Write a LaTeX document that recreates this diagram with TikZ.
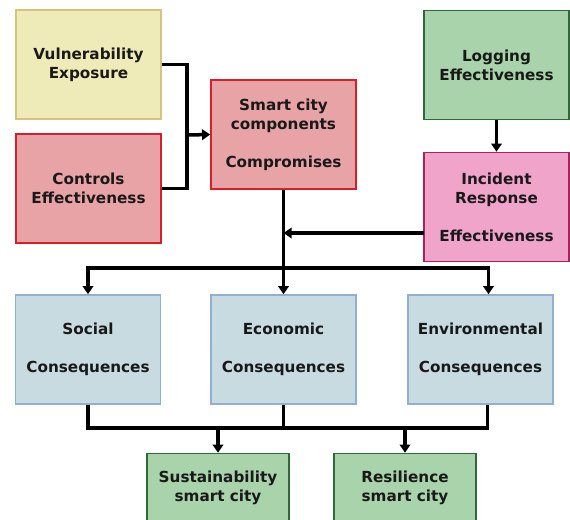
\documentclass[tikz,border=0pt]{standalone}
\usepackage{fontspec}
\setmainfont{DejaVu Sans}
\usetikzlibrary{arrows.meta}

\definecolor{vulfill}{HTML}{EFEBB8}
\definecolor{vuledge}{HTML}{D8C27C}
\definecolor{redfill}{HTML}{E8A3A7}
\definecolor{rededge}{HTML}{D5202C}
\definecolor{grnfill}{HTML}{A9D3AA}
\definecolor{grnedge}{HTML}{2E6A38}
\definecolor{pnkfill}{HTML}{F1A4CA}
\definecolor{pnkedge}{HTML}{A8235E}
\definecolor{blufill}{HTML}{C8DBE1}
\definecolor{bluedge}{HTML}{90AED6}

\begin{document}
\begin{tikzpicture}[
			x=0.03cm, y=-0.03cm,
			box/.style={rectangle, draw, line width=1.3pt, minimum width=4.35cm,
					minimum height=3.27cm, align=center, inner sep=2pt,
					font=\fontsize{13}{16.2}\selectfont\bfseries, text=black!90},
			conn/.style={line width=3pt, black},
			arr/.style={conn, -{Triangle[length=7pt,width=9pt]}}
		]
		\useasboundingbox (0,0) rectangle (570,519);
		\clip (0,0) rectangle (570,519);

		% inputs to the components
		\node[box, fill=vulfill, draw=vuledge] (vul) at (88.5,64.5) {Vulnerability\\Exposure};
		\node[box, fill=redfill, draw=rededge] (ctl) at (88.5,188.5) {Controls\\Effectiveness};
		\node[box, fill=redfill, draw=rededge] (smart) at (283.5,134.5) {Smart city\\components\\[16.2pt]Compromises};
		\node[box, fill=grnfill, draw=grnedge] (log) at (496.5,65) {Logging\\Effectiveness};
		\node[box, fill=pnkfill, draw=pnkedge] (inc) at (496.5,207) {Incident\\Response\\[16.2pt]Effectiveness};

		% consequences
		\node[box, fill=blufill, draw=bluedge] (soc) at (88,349.5) {Social\\[16.2pt]Consequences};
		\node[box, fill=blufill, draw=bluedge] (eco) at (283.5,349.5) {Economic\\[16.2pt]Consequences};
		\node[box, fill=blufill, draw=bluedge] (env) at (480.5,349.5) {Environmental\\[16.2pt]Consequences};

		% outcomes
		\node[box, fill=grnfill, draw=grnedge, minimum width=4.26cm, minimum height=2.07cm] (sus) at (218,488) {Sustainability\\smart city};
		\node[box, fill=grnfill, draw=grnedge, minimum width=4.26cm, minimum height=2.07cm] (res) at (405,488) {Resilience\\smart city};

		\coordinate (join) at (187,135);
		\coordinate (irOut) at (424,233);
		\coordinate (tb) at (0,268);
		\coordinate (bb) at (0,428);
		\coordinate (envT) at ([xshift=0.24cm]env.north);
		\coordinate (envB) at ([xshift=0.21cm]env.south);

		\draw[conn] (vul.east) -| (join) |- (ctl.east);
		\draw[arr] (join) -- (smart.west);
		\draw[arr] (log.south) -- (inc.north);
		\draw[arr] (irOut) -- (irOut -| smart.south);
		\draw[arr] (smart.south) -- (eco.north);
		\draw[arr] (eco.north |- tb) -| (soc.north);
		\draw[arr] (eco.north |- tb) -| (envT);

		\draw[conn] (soc.south) |- (envB |- bb) -- (envB);
		\draw[conn] (eco.south) -- (eco.south |- bb);
		\draw[arr] (sus.north |- bb) -- (sus.north);
		\draw[arr] (res.north |- bb) -- (res.north);
	\end{tikzpicture}
\end{document}
